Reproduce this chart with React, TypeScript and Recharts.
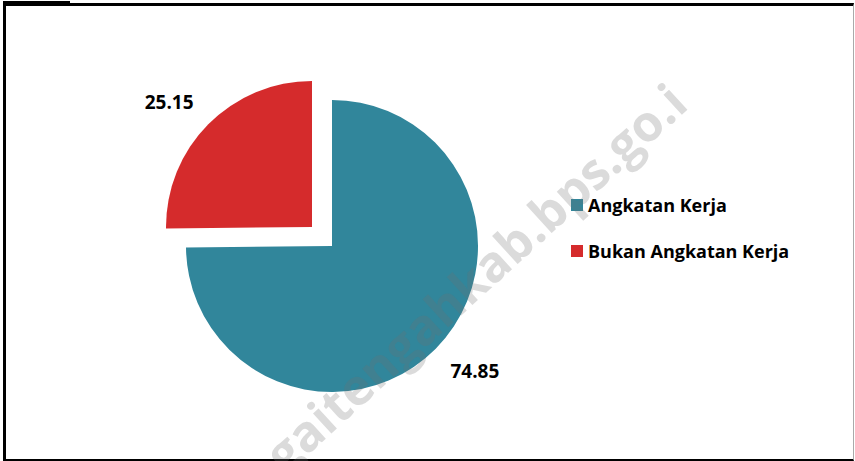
import { Cell, Legend, Pie, PieChart } from "recharts";

const categories = ["Angkatan Kerja", "Bukan Angkatan Kerja"];
const values = [74.85, 25.15];
const colors = ["#31869B", "#D52B2C"];
const labels = ["74.85", "25.15"];

const data = categories.map((name, i) => ({ name, value: values[i] }));

const RADIAN = Math.PI / 180;
const FONT = "'Open Sans', sans-serif";

function renderLabel(which: number) {
  return (props: any) => {
    if (props.index !== which) return null;
    const angle = (props.midAngle + 3.5) * RADIAN;
    const r = props.outerRadius + 44;
    const x = props.cx + r * Math.cos(angle);
    const y = props.cy - r * Math.sin(angle);
    return (
      <text
        x={x}
        y={y}
        textAnchor="middle"
        dominantBaseline="central"
        fontFamily={FONT}
        fontWeight={700}
        fontSize={19}
        fill="#000"
      >
        {labels[props.index]}
      </text>
    );
  };
}

function LegendBox() {
  return (
    <div style={{ fontFamily: FONT, fontWeight: 700, fontSize: 18, color: "#000" }}>
      {categories.map((c, i) => (
        <div
          key={c}
          style={{ display: "flex", alignItems: "center", height: 24, marginBottom: 22 }}
        >
          <span
            style={{
              display: "inline-block",
              width: 12,
              height: 12,
              background: colors[i],
              marginRight: 5,
            }}
          />
          {c}
        </div>
      ))}
    </div>
  );
}

export default function App() {
  return (
    <div
      style={{
        position: "absolute",
        left: 0,
        top: 0,
        width: 855,
        height: 461,
        background: "#fff",
        overflow: "hidden",
      }}
    >
      <div style={{ position: "absolute", left: 3, top: 1, width: 67, height: 2, background: "#000" }} />
      <div
        style={{
          position: "absolute",
          left: 3,
          top: 3,
          width: 851,
          height: 458,
          boxSizing: "border-box",
          borderTop: "3px solid #000",
          borderLeft: "3px solid #000",
          borderRight: "1px solid #aaa",
          borderBottom: "2px solid #000",
        }}
      />
      <div style={{ position: "absolute", left: 0, top: 0 }}>
        <PieChart width={855} height={461} margin={{ top: 0, right: 0, bottom: 0, left: 0 }}>
          <Pie
            data={data}
            dataKey="value"
            nameKey="name"
            cx={332}
            cy={246}
            outerRadius={146}
            startAngle={90}
            endAngle={-270}
            stroke="none"
            labelLine={false}
            label={renderLabel(0)}
            isAnimationActive={false}
          >
            <Cell fill={colors[0]} />
            <Cell fill="transparent" />
          </Pie>
          <Pie
            data={data}
            dataKey="value"
            nameKey="name"
            cx={312}
            cy={227}
            outerRadius={146}
            startAngle={90}
            endAngle={-270}
            stroke="none"
            labelLine={false}
            label={renderLabel(1)}
            legendType="none"
            isAnimationActive={false}
          >
            <Cell fill="transparent" />
            <Cell fill={colors[1]} />
          </Pie>
          <Legend
            content={() => <LegendBox />}
            wrapperStyle={{ position: "absolute", left: 571, top: 193, width: 260 }}
          />
        </PieChart>
      </div>
      <div
        style={{
          position: "absolute",
          left: 284,
          top: 474,
          transform: "rotate(-42.3deg)",
          transformOrigin: "0 0",
          whiteSpace: "nowrap",
          fontFamily: FONT,
          fontWeight: 700,
          fontSize: 50,
          lineHeight: "50px",
          color: "rgba(110,110,110,0.25)",
          pointerEvents: "none",
        }}
      >
        <span style={{ position: "relative", top: -42 }}>gaitengahkab.bps.go.i</span>
      </div>
    </div>
  );
}
